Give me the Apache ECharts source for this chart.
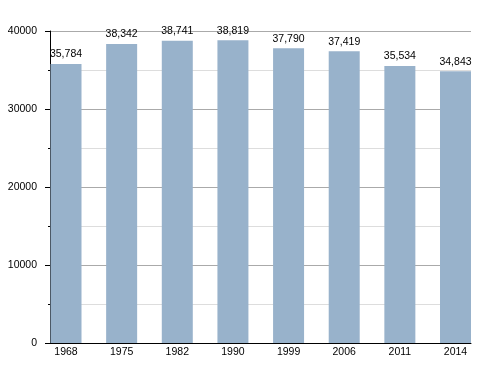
<!DOCTYPE html>
<html>
<head>
<meta charset="utf-8">
<script src="https://cdn.jsdelivr.net/npm/echarts@6/dist/echarts.min.js"></script>
<style>html,body{margin:0;padding:0;background:#fff;}#c{width:500px;height:373px;}</style>
</head>
<body>
<div id="c"></div>
<script>
const categories = ['1968', '1975', '1982', '1990', '1999', '2006', '2011', '2014'];
const population = [35784, 38342, 38741, 38819, 37790, 37419, 35534, 34843];
const yTicks = [0, 10000, 20000, 30000, 40000];

const FONT = 'Liberation Sans, Arial, sans-serif';
const chart = echarts.init(document.getElementById('c'), null, {renderer: 'canvas'});
chart.setOption({
  animation: false,
  backgroundColor: '#fff',
  grid: [
    {left: 66, right: 44.5, top: 31, bottom: 29.5},
    {left: 50, right: 29, top: 31, bottom: 29.5}
  ],
  xAxis: [
    {
      type: 'category', gridIndex: 0, data: categories, boundaryGap: false,
      axisLine: {show: false}, axisTick: {show: false}, splitLine: {show: false},
      axisLabel: {color: '#000', fontFamily: FONT, fontSize: 10.5, margin: 3}
    },
    {
      type: 'value', gridIndex: 1, min: 0, max: 1, z: 20,
      axisLine: {show: true, lineStyle: {color: '#000', width: 1}},
      axisTick: {show: false}, axisLabel: {show: false}, splitLine: {show: false}
    }
  ],
  yAxis: [
    {
      type: 'value', gridIndex: 0, min: yTicks[0], max: yTicks[yTicks.length - 1],
      show: false, splitLine: {show: false}
    },
    {
      type: 'value', gridIndex: 1, min: yTicks[0], max: yTicks[yTicks.length - 1],
      interval: yTicks[1] - yTicks[0], z: 0,
      axisLine: {show: true, lineStyle: {color: '#000', width: 1}},
      axisTick: {show: true, length: 5, lineStyle: {color: '#000'}},
      minorTick: {show: true, splitNumber: 2, length: 2, lineStyle: {color: '#000'}},
      splitLine: {show: true, lineStyle: {color: '#aaaaaa', width: 1}},
      minorSplitLine: {show: true, lineStyle: {color: '#dddddd', width: 1}},
      axisLabel: {color: '#000', fontFamily: FONT, fontSize: 10.5, margin: 13,
                  formatter: v => String(v)}
    }
  ],
  series: [{
    type: 'bar', xAxisIndex: 0, yAxisIndex: 0, data: population,
    barWidth: 31, clip: false, z: 10,
    itemStyle: {color: '#98b2cb'},
    label: {
      show: true, position: 'top', distance: 4, color: '#000',
      fontFamily: FONT, fontSize: 10.5,
      formatter: p => p.value.toLocaleString('en-US')
    }
  }]
});
</script>
</body>
</html>
